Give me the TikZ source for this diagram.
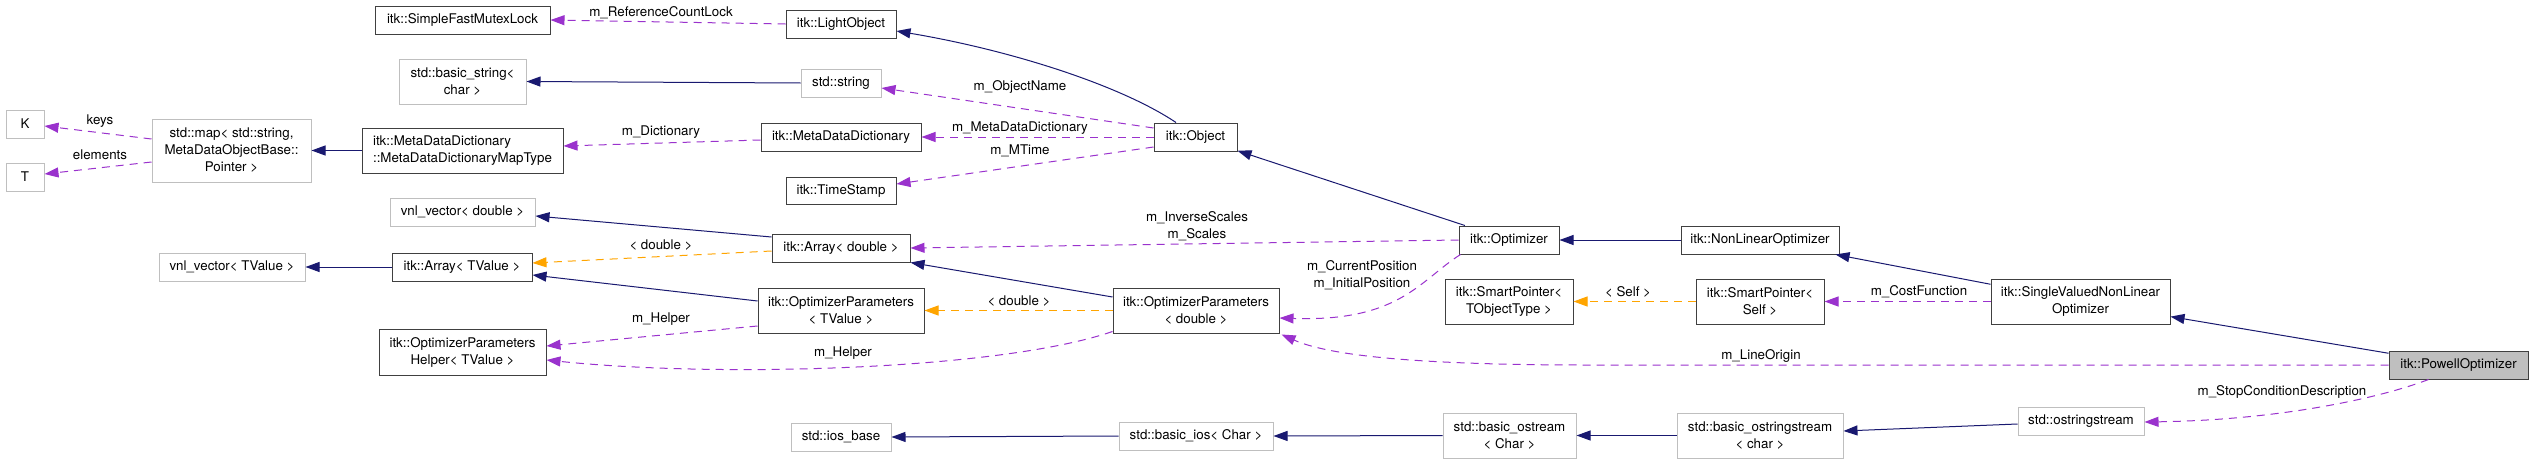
\documentclass[tikz,border=0pt]{standalone}
\usepackage{fontspec}
\setmainfont{TeX Gyre Heros}
\usetikzlibrary{arrows.meta,calc}
\definecolor{inhblue}{HTML}{191970}
\definecolor{usepurple}{HTML}{9A32CD}
\definecolor{tmplorange}{HTML}{FFA500}
\definecolor{boxgray}{HTML}{BFBFBF}
\definecolor{boxdark}{HTML}{404040}
\newcommand{\cbox}[7]{%
  \node[#6, minimum width={(#4-#2)*0.75pt}, minimum height={(#5-#3)*0.75pt}] (#1) at ({(#2+#4)/2},{(#3+#5)/2}) {#7};}
\tikzset{
  classbox/.style={draw=boxdark, line width=0.75pt, fill=white, inner sep=0pt, align=center, font=\fontsize{10}{12.75}\selectfont},
  extbox/.style={classbox, draw=boxgray},
  mainbox/.style={classbox, fill=boxgray},
  inh/.style={draw=inhblue, line width=0.75pt, -{Triangle[length=10.5pt,width=7.5pt]}},
  usage/.style={draw=usepurple, line width=0.75pt, dash pattern=on 6pt off 4.5pt, -{Triangle[length=10.5pt,width=7.5pt]}},
  tmpl/.style={usage, draw=tmplorange},
  lbl/.style={font=\fontsize{10}{12.75}\selectfont, inner sep=0pt, align=center}
}
\begin{document}
\begin{tikzpicture}[x=0.75pt,y=-0.75pt]
\fill[white] (0,0) rectangle (2533,464);
\useasboundingbox (0,0) rectangle (2533,464);
% nodes
\cbox{sfm}{375}{6}{550}{34}{classbox}{itk::SimpleFastMutexLock}
\cbox{lob}{786}{10}{896}{38}{classbox}{itk::LightObject}
\cbox{bstr}{399}{59}{526}{104}{extbox}{std::basic\_string<\\char >}
\cbox{str}{801}{69}{881}{97}{extbox}{std::string}
\cbox{nk}{6}{110}{44}{138}{extbox}{K}
\cbox{nt}{6}{163}{44}{191}{extbox}{T}
\cbox{map}{152}{119}{311}{182}{extbox}{std::map< std::string,\\MetaDataObjectBase::\\Pointer >}
\cbox{mapt}{362}{128}{563}{173}{classbox,align=left}{itk::MetaDataDictionary\\::MetaDataDictionaryMapType}
\cbox{mdd}{761}{123}{921}{151}{classbox}{itk::MetaDataDictionary}
\cbox{obj}{1154}{123}{1237}{151}{classbox}{itk::Object}
\cbox{ts}{786}{177}{896}{204}{classbox}{itk::TimeStamp}
\cbox{vnld}{390}{198}{535}{226}{extbox}{vnl\_vector< double >}
\cbox{arrd}{772}{234}{910}{262}{classbox}{itk::Array< double >}
\cbox{vnlt}{159}{253}{305}{281}{extbox}{vnl\_vector< TValue >}
\cbox{arrt}{392}{253}{532}{281}{classbox}{itk::Array< TValue >}
\cbox{opt}{1459}{226}{1559}{254}{classbox}{itk::Optimizer}
\cbox{nlo}{1681}{226}{1839}{254}{classbox}{itk::NonLinearOptimizer}
\cbox{optt}{758}{288}{924}{333}{classbox}{itk::OptimizerParameters\\< TValue >}
\cbox{opd}{1113}{288}{1279}{333}{classbox}{itk::OptimizerParameters\\< double >}
\cbox{spt}{1445}{279}{1573}{324}{classbox}{itk::SmartPointer<\\TObjectType >}
\cbox{sps}{1696}{279}{1824}{324}{classbox}{itk::SmartPointer<\\Self >}
\cbox{svo}{1991}{279}{2170}{324}{classbox}{itk::SingleValuedNonLinear\\Optimizer}
\cbox{hlp}{379}{329}{546}{375}{classbox}{itk::OptimizerParameters\\Helper< TValue >}
\cbox{pow}{2389}{351}{2528}{379}{mainbox}{itk::PowellOptimizer}
\cbox{iosb}{791}{423}{891}{451}{extbox}{std::ios\_base}
\cbox{bios}{1119}{422}{1273}{450}{extbox}{std::basic\_ios< Char >}
\cbox{bos}{1443}{413}{1576}{458}{extbox}{std::basic\_ostream\\< Char >}
\cbox{bostr}{1677}{413}{1843}{458}{extbox}{std::basic\_ostringstream\\< char >}
\cbox{ostr}{2018}{407}{2144}{435}{extbox}{std::ostringstream}
% edges
\draw[inh] (pow) -- (svo);
\draw[inh] (svo) -- (nlo);
\draw[inh] (nlo) -- (opt);
\draw[inh] (opt) -- (obj);
\draw[inh] ($(obj.north)+(-19.5,0)$) .. controls (1120,85) and (1010,50) .. ($(lob.east)+(0,7)$);
\draw[usage] (lob.west) -- (sfm.east);
\draw[inh] (str.west) -- (bstr.east);
\draw[usage] ($(obj.west)+(0,-9)$) -- ($(str.east)+(0,5)$);
\draw[usage] (obj.west) -- (mdd.east);
\draw[usage] ($(obj.west)+(0,10)$) -- ($(ts.east)+(0,-6.5)$);
\draw[usage] ($(mdd.west)+(0,3)$) -- ($(mapt.east)+(0,-4.5)$);
\draw[inh] (mapt.west) -- (map.east);
\draw[usage] ($(map.west)+(0,-11.5)$) -- ($(nk.east)+(0,2)$);
\draw[usage] ($(map.west)+(0,11.5)$) -- ($(nt.east)+(0,-3)$);
\draw[inh] ($(arrd.west)+(0,-11)$) -- ($(vnld.east)+(0,4)$);
\draw[inh] (arrt.west) -- (vnlt.east);
\draw[tmpl] ($(arrd.west)+(0,3)$) -- ($(arrt.east)+(0,-4)$);
\draw[inh] ($(optt.west)+(0,-9.5)$) -- ($(arrt.east)+(0,8)$);
\draw[usage] ($(optt.west)+(0,15.5)$) -- ($(hlp.east)+(0,-6)$);
\draw[usage] ($(opd.south west)+(0,-2)$) .. controls (1000,370) and (720,378) .. ($(hlp.east)+(0,8)$);
\draw[inh] ($(opd.west)+(0,-13.5)$) -- (arrd.south east);
\draw[tmpl] (opd.west) -- (optt.east);
\draw[usage] (opt.west) -- (arrd.east);
\draw[usage] ($(opt.south west)+(2,0)$) .. controls (1420,280) and (1400,322) .. ($(opd.east)+(0,7.5)$);
\draw[tmpl] (sps.west) -- (spt.east);
\draw[usage] (svo.west) -- (sps.east);
\draw[usage] (pow.west) -- ++(-800,0) .. controls (1420,365) and (1330,356) .. ($(opd.south east)+(2,1)$);
\draw[usage] ($(pow.south)+(-30,0)$) .. controls (2380,398) and (2280,420) .. ($(ostr.east)+(0,1)$);
\draw[inh] ($(ostr.west)+(0,3)$) -- ($(bostr.east)+(0,-4.5)$);
\draw[inh] (bostr.west) -- (bos.east);
\draw[inh] (bos.west) -- (bios.east);
\draw[inh] (bios.west) -- (iosb.east);
% labels
\node[lbl] (l1) at (661,13) {m\_ReferenceCountLock};
\node[lbl] (l2) at (1020,87) {m\_ObjectName};
\node[lbl] (l3) at (1020,128) {m\_MetaDataDictionary};
\node[lbl] (l4) at (1020,151) {m\_MTime};
\node[lbl] (l5) at (661,132) {m\_Dictionary};
\node[lbl] (l6) at (100,121) {keys};
\node[lbl] (l7) at (100,155) {elements};
\node[lbl] (l8) at (661,245) {< double >};
\node[lbl] (l9) at (661,319) {m\_Helper};
\node[lbl] (l10) at (843,353) {m\_Helper};
\node[lbl] (l11) at (1019,301) {< double >};
\node[lbl] (l12) at (1197,226) {m\_InverseScales\\m\_Scales};
\node[lbl] (l13) at (1362,275) {m\_CurrentPosition\\m\_InitialPosition};
\node[lbl] (l14) at (1628,292) {< Self >};
\node[lbl] (l15) at (1919,292) {m\_CostFunction};
\node[lbl] (l16) at (1761,356) {m\_LineOrigin};
\node[lbl] (l17) at (2282,392) {m\_StopConditionDescription};
\end{tikzpicture}
\end{document}
